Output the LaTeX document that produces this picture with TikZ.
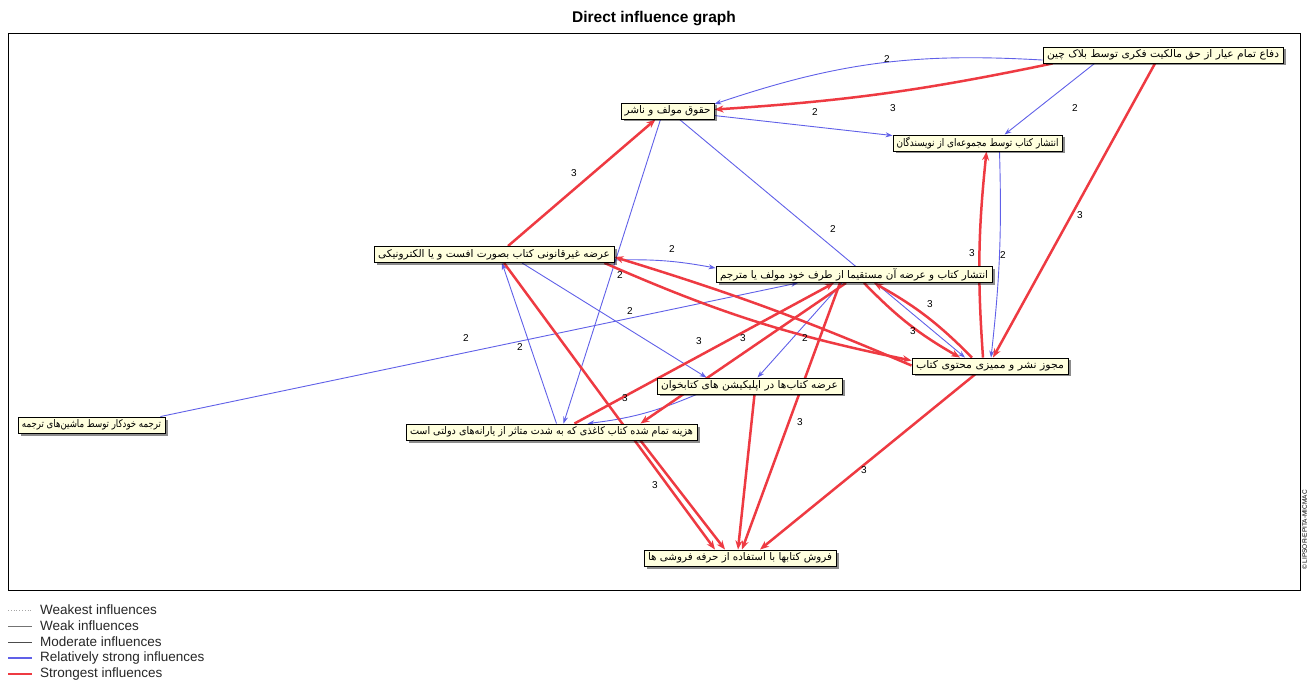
\documentclass[tikz,border=0pt]{standalone}
\usepackage{fontspec}
\setmainfont{Liberation Sans}
\newfontfamily\arabicfont[Script=Arabic]{DejaVu Sans}
\TeXXeTstate=1
\usetikzlibrary{arrows.meta,shadows,backgrounds}
\definecolor{cream}{RGB}{255,255,222}
\definecolor{redC}{RGB}{238,58,66}
\definecolor{blueC}{RGB}{96,96,232}
\newlength\fawd
\newcommand\fabox[2]{\settowidth\fawd{\arabicfont\fontsize{10.5}{11}\selectfont #2}\pgfmathsetmacro\fasc{(#1)/\fawd}\scalebox{\fasc}[1]{\arabicfont\fontsize{10.5}{11}\selectfont #2}}
\begin{document}
\begin{tikzpicture}[x=1pt,y=1pt,
  fnode/.style={draw=black, line width=0.9pt, fill=cream, inner sep=0pt, minimum height=16pt,
    drop shadow={shadow xshift=2.5pt, shadow yshift=-2.5pt, opacity=0.45, fill=black}},
  bl/.style={draw=blueC, line width=0.9pt, -{Stealth[length=7pt,width=5pt]}},
  rd/.style={draw=redC, line width=2.5pt, -{Stealth[length=9pt,width=7pt]}},
  lab/.style={font=\fontsize{10}{12}\selectfont, inner sep=0pt},
  leg/.style={font=\fontsize{13.5}{15}\selectfont, anchor=west, inner sep=0pt, text=black!85}]
\useasboundingbox (0,0) rectangle (1309,-684);
\node[font=\fontsize{15.5}{18}\selectfont\bfseries] (title) at (654,-19) {Direct influence graph};
\node[draw=black, line width=0.8pt, minimum width=1292pt, minimum height=557pt, inner sep=0pt] (frame) at (654,-311.5) {};
\node[rotate=90, font=\fontsize{6.5}{7}\selectfont, inner sep=0pt] (copy) at (1304.5,-530) {\textcopyright{} LIPSOR-EPITA-MICMAC};

% nodes
\node[fnode, minimum width=240pt] (n1) at (1163,-55) {\fabox{232}{\beginR دفاع تمام عیار از حق مالکیت فکری توسط بلاک چین\endR}};
\node[fnode, minimum width=93pt] (n2) at (667.5,-111) {\fabox{86}{\beginR حقوق مولف و ناشر\endR}};
\node[fnode, minimum width=169pt] (n3) at (977.5,-143) {\fabox{162}{\beginR انتشار کتاب توسط مجموعه‌ای از نویسندگان\endR}};
\node[fnode, minimum width=240pt] (n4) at (494,-254.5) {\fabox{232}{\beginR عرضه غیرقانونی کتاب بصورت افست و یا الکترونیکی\endR}};
\node[fnode, minimum width=276pt] (n5) at (854,-274.5) {\fabox{268}{\beginR انتشار کتاب و عرضه آن مستقیما از طرف خود مولف یا مترجم\endR}};
\node[fnode, minimum width=156pt] (n6) at (990,-366) {\fabox{148}{\beginR مجوز نشر و ممیزی محتوی کتاب\endR}};
\node[fnode, minimum width=185pt] (n7) at (749.5,-386) {\fabox{177}{\beginR عرضه کتاب‌ها در اپلیکیشن های کتابخوان\endR}};
\node[fnode, minimum width=147pt] (n8) at (91.5,-425) {\fabox{139}{\beginR ترجمه خودکار توسط ماشین‌های ترجمه\endR}};
\node[fnode, minimum width=291pt] (n9) at (551.5,-432) {\fabox{283}{\beginR هزینه تمام شده کتاب کاغذی که به شدت متاثر از یارانه‌های دولتی است\endR}};
\node[fnode, minimum width=192pt] (n10) at (740,-558) {\fabox{184}{\beginR فروش کتابها با استفاده از حرفه فروشی ها\endR}};

\begin{pgfonlayer}{background}
% blue edges
\draw[bl] ([yshift=-13.5pt]n1.north west) to[bend right=11] ([yshift=-1.5pt]n2.north east);
\draw[bl] ([yshift=-13pt]n2.north east) -- ([yshift=-1pt]n3.north west);
\draw[bl] ([xshift=52pt]n1.south west) -- ([xshift=112pt]n3.north west);
\draw[bl] ([xshift=22pt]n3.south) to[bend left=4] ([xshift=1pt]n6.north);
\draw[bl] ([xshift=12pt]n2.south) -- ([xshift=-25pt]n6.north);
\draw[bl] ([xshift=-7pt]n2.south) -- ([xshift=12pt]n9.north);
\draw[bl] ([yshift=-14pt]n4.north east) to[bend left=6] ([yshift=-2pt]n5.north west);
\draw[bl] ([xshift=28pt]n4.south) -- ([xshift=50pt]n7.north west);
\draw[bl] ([xshift=-12pt]n5.south) -- ([xshift=8pt]n7.north);
\draw[bl] ([xshift=-5pt]n8.north east) -- ([xshift=-56pt]n5.south);
\draw[bl] ([xshift=5pt]n9.north) -- ([xshift=8pt]n4.south);
\draw[bl] ([xshift=40pt]n7.south west) to[bend left=8] ([xshift=-110pt]n9.north east);
% red edges
\draw[rd] ([xshift=10pt]n1.south west) to[bend left=4] ([yshift=-7pt]n2.north east);
\draw[rd] ([xshift=-8pt]n1.south) -- ([xshift=3pt]n6.north);
\draw[rd] ([xshift=-7pt]n6.north) to[bend left=5] ([xshift=9pt]n3.south);
\draw[rd] ([xshift=14pt]n4.north) -- ([xshift=-12pt]n2.south);
\draw[rd] ([xshift=-10pt]n4.south east) to[bend right=6] ([yshift=-3pt]n6.north west);
\draw[rd] ([yshift=-8pt]n6.north west) to[bend right=3] ([yshift=-11pt]n4.north east);
\draw[rd] ([xshift=10pt]n5.south) to[bend right=8] ([xshift=-30pt]n6.north);
\draw[rd] ([xshift=-18pt]n6.north) to[bend right=8] ([xshift=20pt]n5.south);
\draw[rd] ([xshift=-123pt]n9.north east) -- ([xshift=-20pt]n5.south);
\draw[rd] ([xshift=-8pt]n5.south) -- ([xshift=-57pt]n9.north east);
\draw[rd] ([xshift=10pt]n4.south) -- ([xshift=-25pt]n10.north);
\draw[rd] ([xshift=-57pt]n9.south east) -- ([xshift=-15pt]n10.north);
\draw[rd] ([xshift=5pt]n7.south) -- ([xshift=-2pt]n10.north);
\draw[rd] ([xshift=-14pt]n5.south) -- ([xshift=2pt]n10.north);
\draw[rd] ([xshift=-15pt]n6.south) -- ([xshift=20pt]n10.north);
\end{pgfonlayer}

% edge labels
\node[lab] (l1) at (887,-59) {2};
\node[lab] (l2) at (893,-108) {3};
\node[lab] (l3) at (815,-112) {2};
\node[lab] (l4) at (1075,-108) {2};
\node[lab] (l5) at (1080,-215) {3};
\node[lab] (l6) at (574,-173) {3};
\node[lab] (l7) at (972,-253) {3};
\node[lab] (l8) at (1003,-255) {2};
\node[lab] (l9) at (833,-229) {2};
\node[lab] (l10) at (672,-249) {2};
\node[lab] (l11) at (620,-275) {2};
\node[lab] (l12) at (630,-311) {2};
\node[lab] (l13) at (930,-304) {3};
\node[lab] (l14) at (913,-331) {3};
\node[lab] (l15) at (805,-338) {2};
\node[lab] (l16) at (466,-338) {2};
\node[lab] (l17) at (699,-341) {3};
\node[lab] (l18) at (743,-338) {3};
\node[lab] (l19) at (520,-347) {2};
\node[lab] (l20) at (625,-398) {3};
\node[lab] (l21) at (800,-422) {3};
\node[lab] (l22) at (864,-470) {3};
\node[lab] (l23) at (655,-485) {3};

% legend
\coordinate (g1a) at (8,-610); \coordinate (g1b) at (32,-610);
\coordinate (g2a) at (8,-626); \coordinate (g2b) at (32,-626);
\coordinate (g3a) at (8,-642); \coordinate (g3b) at (32,-642);
\coordinate (g4a) at (8,-658); \coordinate (g4b) at (32,-658);
\coordinate (g5a) at (8,-674); \coordinate (g5b) at (32,-674);
\draw[black!35, line width=0.8pt, dotted] (g1a) -- (g1b);
\draw[black!55, line width=0.8pt] (g2a) -- (g2b);
\draw[black!70, line width=1pt] (g3a) -- (g3b);
\draw[blueC, line width=2pt] (g4a) -- (g4b);
\draw[redC, line width=2.4pt] (g5a) -- (g5b);
\node[leg] (t1) at (40,-610) {Weakest influences};
\node[leg] (t2) at (40,-626) {Weak influences};
\node[leg] (t3) at (40,-642) {Moderate influences};
\node[leg] (t4) at (40,-658) {Relatively strong influences};
\node[leg] (t5) at (40,-674) {Strongest influences};
\end{tikzpicture}
\end{document}
